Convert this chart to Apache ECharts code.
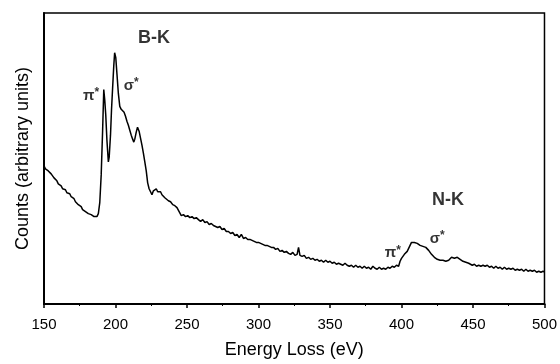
<!DOCTYPE html>
<html>
<head>
<meta charset="utf-8">
<script src="https://cdn.jsdelivr.net/npm/echarts@6/dist/echarts.min.js"></script>
<style>
  html, body { margin: 0; padding: 0; background: #fff; }
  #chart { width: 560px; height: 364px; }
</style>
</head>
<body>
<div id="chart"></div>
<script>
// energy loss (eV) and counts (arbitrary units)
const energy = [
  150, 151, 152, 153, 154, 155, 156, 157, 158, 159, 160, 161, 162, 163, 164, 165, 166, 167, 168, 169,
  170, 171, 172, 173, 174, 175, 176, 177, 178, 179, 180, 181, 182, 183, 184, 185, 186, 187, 188, 189,
  190, 191, 191.8, 192.5, 193.2, 194, 195, 195.6, 196.5, 197.2, 198, 198.8, 199.4, 200.2, 201, 202, 203,
  204, 205, 206, 207, 208, 209, 210, 211, 212, 212.8, 213.5, 214.5, 215.4, 216.5, 217.5, 218.5, 219.5,
  220.5, 221.5, 222.5, 223.5, 224.5, 225.5, 226.5, 227.5, 228.5, 229.5, 230.5, 231.5, 232.5, 233.5,
  234.5, 235.5, 237, 238.5, 240, 241.5, 243, 244.5, 246, 247.5, 249, 250.5, 252, 253.5, 255, 256.5,
  258, 259.5, 261, 262.5, 264, 265.5, 267, 268.5, 270, 271.5, 273, 274.5, 276, 277.5, 279, 280.5, 282,
  283.5, 285, 286.5, 288, 289.5, 291, 292.5, 294, 295.5, 297, 298.5, 300, 301.5, 303, 304.5, 306, 307.5,
  309, 310.5, 312, 313.5, 315, 316.5, 318, 319.5, 321, 322.5, 324, 325.5, 327, 328, 329, 330.5, 332,
  333.5, 335, 336.5, 338, 339.5, 341, 342.5, 344, 345.5, 347, 348.5, 350, 351.5, 353, 354.5, 356, 357.5,
  359, 360.5, 362, 363.5, 365, 366.5, 368, 369.5, 371, 372.5, 374, 375.5, 377, 378.5, 380, 381.5, 383,
  384.5, 386, 387.5, 389, 390.5, 392, 393.5, 395, 396.5, 398, 399, 400, 401, 402, 403, 404, 405, 406,
  407, 408, 409, 410, 411, 412, 413, 414, 415, 416, 417, 418, 419, 420, 421, 422, 423, 424, 425, 426,
  427, 428, 429, 430, 431, 432, 433, 434, 435, 436, 437, 438, 439, 440, 441, 442, 443, 444, 445, 446,
  447, 448, 449.5, 451, 452.5, 454, 455.5, 457, 458.5, 460, 461.5, 463, 464.5, 466, 467.5, 469, 470.5,
  472, 473.5, 475, 476.5, 478, 479.5, 481, 482.5, 484, 485.5, 487, 488.5, 490, 491.5, 493, 494.5, 496,
  497.5, 499, 500
];
const counts = [
  139, 136, 137, 134, 133, 131, 130, 127, 125, 124, 121, 119, 119, 116, 115, 115, 112, 112, 111, 108,
  107, 106, 103, 102, 100, 98, 98, 95, 96, 93, 94, 91, 92, 90, 90, 88, 89, 88, 91, 102,
  130, 175, 216, 205, 190, 165, 143, 148, 170, 195, 218, 240, 253, 248, 232, 212, 199,
  196, 194, 193, 189, 184, 180, 175, 170, 166, 163, 166, 173, 178, 174, 167, 160, 152,
  143, 134, 122, 116, 113, 110, 114, 112, 116, 113, 112, 113, 110, 109,
  107, 106, 104, 103, 100, 99, 97, 93, 89, 90, 88, 89, 87, 88, 86, 87,
  85, 83, 85, 82, 83, 80, 81, 79, 78, 77, 78, 75, 76, 73, 73, 71, 72,
  69, 70, 67, 70, 66, 67, 65, 65, 64, 63, 62, 62, 61, 60, 59, 59, 58,
  57, 57, 55, 56, 53, 54, 52, 53, 51, 50, 52, 49, 50, 57, 49, 48, 49,
  46, 47, 45, 46, 44, 45, 43, 44, 42, 44, 42, 43, 41, 42, 40, 41, 40,
  39, 41, 39, 38, 39, 37, 39, 37, 38, 36, 38, 36, 37, 35, 38, 36, 35,
  37, 35, 36, 35, 37, 36, 38, 37, 39, 38, 43, 46, 48, 50, 51, 53, 56, 59,
  62, 64, 62, 63, 61, 61, 59, 60, 58, 59, 57, 56, 54, 52, 50, 49, 47, 47, 45, 46, 44,
  45, 44, 46, 43, 45, 44, 45, 47, 45, 46, 48, 47, 45, 45, 44, 43, 44, 42, 42,
  41, 40, 39, 40, 38, 39, 38, 39, 38, 39, 37, 38, 36, 38, 36, 37, 35,
  37, 35, 36, 35, 36, 34, 35, 34, 35, 33, 35, 33, 34, 33, 34, 32, 33,
  32, 33, 32
];

// edge labels placed in data coordinates
const noteText = ['B-K', 'N-K', '{g|π}{s|*}', '{g|σ}{s|*}', '{g|π}{s|*}', '{g|σ}{s|*}'];
const noteEnergy = [227, 432.5, 183, 211, 394, 425];
const noteCounts = [268, 105, 210, 220, 51, 66];

const xTicks = [150, 200, 250, 300, 350, 400, 450, 500];

const chart = echarts.init(document.getElementById('chart'), null, { renderer: 'canvas' });
const font = 'Liberation Sans, Arial, sans-serif';

chart.setOption({
  animation: false,
  backgroundColor: '#fff',
  grid: {
    left: 44, right: 13, top: 13, bottom: 58,
    show: true, borderColor: '#000', borderWidth: 1.5
  },
  xAxis: {
    type: 'value',
    min: xTicks[0],
    max: xTicks[xTicks.length - 1],
    interval: 50,
    name: 'Energy Loss (eV)',
    nameLocation: 'middle',
    nameGap: 37,
    nameTextStyle: { fontFamily: font, fontSize: 18, color: '#000' },
    axisLine: { lineStyle: { color: '#000', width: 2 } },
    axisTick: { length: 4, lineStyle: { color: '#000', width: 1.5 } },
    minorTick: { show: true, splitNumber: 2, length: 2, lineStyle: { color: '#000' } },
    axisLabel: { margin: 13, fontFamily: font, fontSize: 15, color: '#000' },
    splitLine: { show: false }
  },
  yAxis: {
    type: 'value',
    min: 0,
    max: 293,
    name: 'Counts (arbitrary units)',
    nameLocation: 'middle',
    nameGap: 12,
    nameTextStyle: { fontFamily: font, fontSize: 18, color: '#000' },
    axisLine: { show: true, lineStyle: { color: '#000', width: 2 } },
    axisTick: { show: false },
    axisLabel: { show: false },
    splitLine: { show: false }
  },
  series: [
    {
      type: 'line',
      data: energy.map((e, i) => [e, counts[i]]),
      showSymbol: false,
      lineStyle: { color: '#000', width: 1.5 }
    },
    {
      type: 'scatter',
      symbolSize: 0,
      silent: true,
      data: noteText.map((t, i) => ({ value: [noteEnergy[i], noteCounts[i]], name: t })),
      label: {
        show: true,
        position: 'inside',
        formatter: (p) => p.name,
        fontFamily: font,
        fontSize: 18,
        fontWeight: 'bold',
        color: '#000',
        rich: {
          g: { fontFamily: font, fontSize: 15, color: '#000', lineHeight: 18 },
          s: { fontFamily: font, fontSize: 12, fontWeight: 'bold', color: '#000', lineHeight: 10, verticalAlign: 'top' }
        }
      }
    }
  ]
});
</script>
</body>
</html>
